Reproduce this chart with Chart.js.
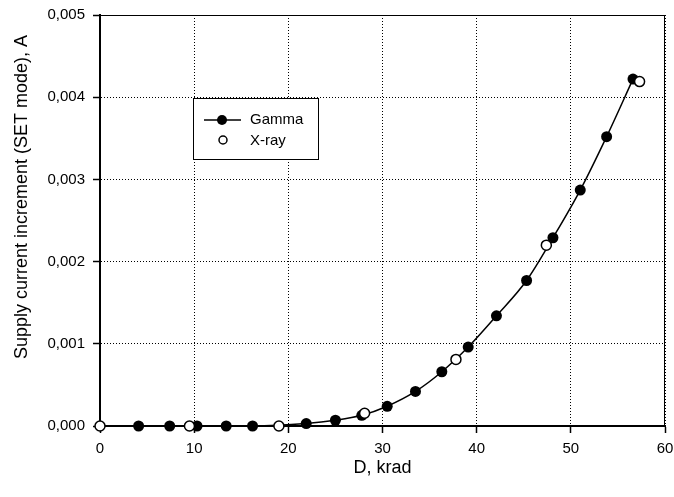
<!DOCTYPE html>
<html>
<head>
<meta charset="utf-8">
<script src="https://cdn.jsdelivr.net/npm/chart.js@4.4.0/dist/chart.umd.min.js"></script>
<style>
html,body{margin:0;padding:0;background:#fff;}
#wrap{width:674px;height:497px;position:relative;}
</style>
</head>
<body>
<div id="wrap"><canvas id="c" width="674" height="497"></canvas></div>
<script>
// ---- data ----
const gammaX = [4.1, 7.4, 10.3, 13.4, 16.2, 21.9, 25.0, 27.8, 30.5, 33.5, 36.3, 39.1, 42.1, 45.3, 48.1, 51.0, 53.8, 56.6];
const gammaY = [0, 0, 0, 0, 0, 0.00003, 0.00007, 0.00013, 0.00024, 0.00042, 0.00066, 0.00096, 0.00134, 0.00177, 0.00229, 0.00287, 0.00352, 0.00422];
const xrayX = [0, 9.5, 19.0, 28.1, 37.8, 47.4, 57.3];
const xrayY = [0, 0, 0, 0.000155, 0.00081, 0.0022, 0.00419];
const xTickLabels = ['0', '10', '20', '30', '40', '50', '60'];
const yTickLabels = ['0,000', '0,001', '0,002', '0,003', '0,004', '0,005'];
const seriesNames = ['Gamma', 'X-ray'];
const xTitle = 'D, krad';
const yTitle = 'Supply current increment (SET mode), A';

const FONT = '"Liberation Sans", Arial, sans-serif';

const toPts = (xs, ys) => xs.map((x, i) => ({x: x, y: ys[i]}));

const framePlugin = {
  id: 'frame',
  beforeDatasetsDraw(chart) {
    const a = chart.chartArea, ctx = chart.ctx;
    ctx.save();
    ctx.strokeStyle = '#000';
    ctx.lineWidth = 1;
    ctx.setLineDash([]);
    ctx.strokeRect(a.left + 0.5, a.top + 0.5, a.right - a.left - 1, a.bottom - a.top);
    ctx.restore();
  },
  afterDraw(chart) {
    const ctx = chart.ctx, a = chart.chartArea;
    ctx.save();
    // axis titles
    ctx.fillStyle = '#000';
    ctx.font = '18px ' + FONT;
    ctx.textAlign = 'center';
    ctx.textBaseline = 'middle';
    ctx.fillText(xTitle, (a.left + a.right) / 2, 468);
    ctx.save();
    ctx.translate(22, 197);
    ctx.rotate(-Math.PI / 2);
    ctx.fillText(yTitle, 0, 0);
    ctx.restore();
    // legend
    ctx.fillStyle = '#fff';
    ctx.fillRect(193, 98, 125, 61);
    ctx.strokeStyle = '#000';
    ctx.lineWidth = 1;
    ctx.strokeRect(193.5, 98.5, 125, 61);
    ctx.lineWidth = 1.5;
    ctx.beginPath(); ctx.moveTo(204, 120); ctx.lineTo(241, 120); ctx.stroke();
    ctx.fillStyle = '#000';
    ctx.beginPath(); ctx.arc(222, 120, 5, 0, Math.PI * 2); ctx.fill();
    ctx.fillStyle = '#fff';
    ctx.beginPath(); ctx.arc(223, 140, 4, 0, Math.PI * 2); ctx.fill(); ctx.stroke();
    ctx.fillStyle = '#000';
    ctx.font = '15px ' + FONT;
    ctx.textAlign = 'left';
    ctx.fillText(seriesNames[0], 250, 120);
    ctx.fillText(seriesNames[1], 250, 141);
    ctx.restore();
  }
};

new Chart(document.getElementById('c'), {
  type: 'scatter',
  data: {
    datasets: [
      {
        label: seriesNames[1],
        data: toPts(xrayX, xrayY),
        showLine: false,
        pointRadius: 5,
        pointHoverRadius: 5,
        pointBackgroundColor: '#fff',
        pointBorderColor: '#000',
        pointBorderWidth: 1.5,
        clip: false
      },
      {
        label: seriesNames[0],
        data: toPts(gammaX, gammaY),
        showLine: true,
        cubicInterpolationMode: 'monotone',
        borderColor: '#000',
        borderWidth: 1.5,
        pointRadius: 5.5,
        pointHoverRadius: 5.5,
        pointBackgroundColor: '#000',
        pointBorderColor: '#000',
        pointBorderWidth: 0,
        clip: false
      }
    ]
  },
  options: {
    responsive: false,
    animation: false,
    events: [],
    layout: {padding: {top: 15, right: 9, left: 0, bottom: 0}},
    plugins: {legend: {display: false}, tooltip: {enabled: false}},
    scales: {
      x: {
        type: 'linear',
        min: 0, max: 60,
        afterFit(s) { s.height = 71; s.paddingLeft = 0; s.paddingRight = 0; },
        ticks: {
          stepSize: 10,
          color: '#000',
          font: {family: FONT, size: 15},
          padding: 7,
          maxRotation: 0,
          callback: (v) => xTickLabels[Math.round(v / 10)]
        },
        grid: {
          color: '#000', lineWidth: 1, tickLength: 7,
          tickColor: '#000', tickWidth: 1.5, tickBorderDash: []
        },
        border: {display: true, color: '#000', width: 2, dash: [1, 2]}
      },
      y: {
        type: 'linear',
        min: 0, max: 0.005,
        afterFit(s) { s.width = 100; s.paddingTop = 0; s.paddingBottom = 0; },
        ticks: {
          stepSize: 0.001,
          color: '#000',
          font: {family: FONT, size: 15},
          padding: 8,
          callback: (v) => yTickLabels[Math.round(v / 0.001)]
        },
        grid: {
          color: '#000', lineWidth: 1, tickLength: 7,
          tickColor: '#000', tickWidth: 1.5, tickBorderDash: []
        },
        border: {display: true, color: '#000', width: 2, dash: [1, 2]}
      }
    }
  },
  plugins: [framePlugin]
});
</script>
</body>
</html>
